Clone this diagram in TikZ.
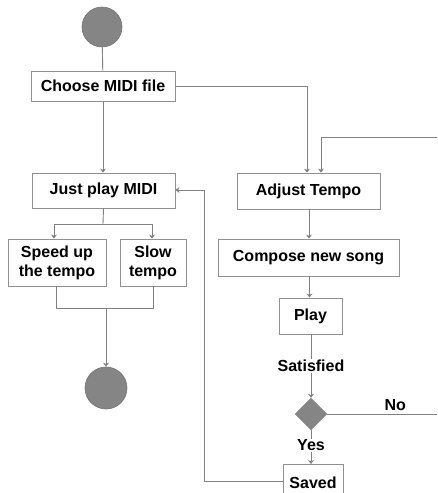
\documentclass[tikz,border=0pt]{standalone}
\usepackage{fontspec}
\setmainfont{Liberation Sans}
\usetikzlibrary{arrows.meta,shapes.geometric}
\definecolor{linegray}{HTML}{808080}
\definecolor{boxgray}{HTML}{909090}
\definecolor{dotgray}{HTML}{858585}
\tikzset{
  actbox/.style={draw=boxgray, line width=0.9pt, fill=white, inner sep=0pt,
    font=\fontsize{16}{19}\selectfont\bfseries, align=center},
  dot/.style={circle, fill=dotgray, draw=gray!90!black, line width=0.6pt, inner sep=0pt},
  decision/.style={diamond, fill=dotgray, draw=dotgray, inner sep=0pt, minimum width=32pt, minimum height=32pt},
  flow/.style={draw=linegray, line width=0.9pt},
  arr/.style={flow, -{Stealth[length=4pt,width=6pt]}},
  lbl/.style={font=\fontsize{16}{19}\selectfont\bfseries, inner sep=0pt}
}
\begin{document}
\begin{tikzpicture}[x=1pt,y=-1pt]
\useasboundingbox (0,0) rectangle (437,493);
% nodes
\node[dot, minimum size=40pt] (start) at (102,27) {};
\node[actbox, minimum width=144pt, minimum height=30pt] (choose) at (103,86) {Choose MIDI file};
\node[actbox, minimum width=143pt, minimum height=35pt] (just) at (103.5,190.5) {Just play MIDI};
\node[actbox, minimum width=98pt, minimum height=47pt] (speed) at (57,262.5) {Speed up\\the tempo};
\node[actbox, minimum width=66pt, minimum height=47pt] (slow) at (153,262.5) {Slow\\tempo};
\node[dot, minimum size=42pt] (end) at (106,388) {};
\node[actbox, minimum width=143pt, minimum height=36pt] (adjust) at (308.5,191) {Adjust Tempo};
\node[actbox, minimum width=181pt, minimum height=37pt] (compose) at (308.5,257.5) {Compose new song};
\node[actbox, minimum width=63pt, minimum height=36pt] (play) at (310.5,316) {Play};
\node[decision] (dec) at (311,414) {};
\node[actbox, minimum width=60pt, minimum height=36pt, anchor=north] (saved) at (313,464) {\raisebox{-3pt}{Saved}};
% free ends and bends
\coordinate (rtop) at (437,137);
\coordinate (rno) at (437,414);
\coordinate (split) at (103,224);
\coordinate (merge) at (106,308);
% connectors
\draw[flow] (start) -- (choose);
\draw[arr] (choose.south -| 103,0) -- (just.north -| 103,0);
\draw[arr] (choose.east) -- (307,86) -- (adjust.north -| 307,0);
\draw[arr] (rtop) -- (321,137) -- (adjust.north -| 321,0);
\draw[arr] (adjust.south -| 309,0) -- (compose.north -| 309,0);
\draw[arr] (compose.south -| 309.5,0) -- (play.north -| 309.5,0);
\draw[arr] (play.south -| 311,0) -- node[lbl, fill=white, inner sep=1pt] {Satisfied} (dec.north);
\draw[arr] (dec.south) -- node[lbl, fill=white, inner sep=1pt, pos=0.45] {Yes} (saved.north -| 311,0);
\draw[flow] (dec.east) -- node[lbl, above=3pt, pos=0.62] {No} (rno);
\draw[arr] (saved.west |- 0,481) -- (204,481) -- (204,190) -- (just.east |- 0,190);
\draw[flow] (just.south) -- (split);
\draw[arr] (split) -- (54,224) -- (speed.north -| 54,0);
\draw[arr] (split) -- (152,224) -- (slow.north -| 152,0);
\draw[flow] (speed.south -| 56,0) -- (56,308) -- (153,308) -- (slow.south -| 153,0);
\draw[arr] (merge) -- (end);
\end{tikzpicture}
\end{document}
